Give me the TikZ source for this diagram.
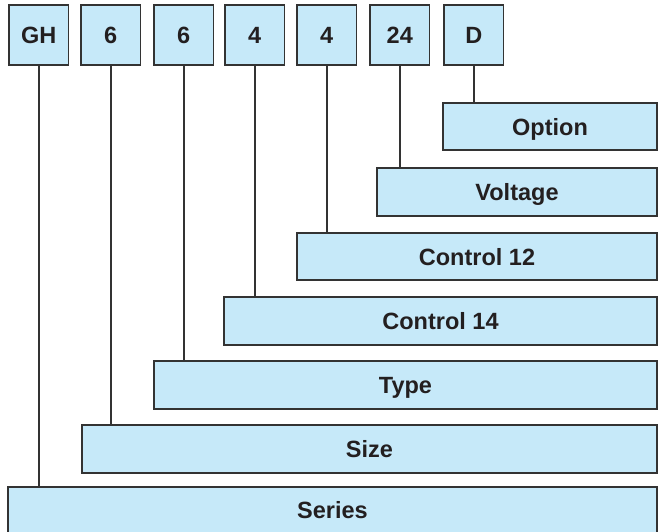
\documentclass[tikz,border=0pt]{standalone}
\usepackage{fontspec}
\setmainfont{Liberation Sans}
\definecolor{boxfill}{HTML}{C6E9F9}
\definecolor{boxline}{HTML}{333333}
\definecolor{ink}{HTML}{231F20}
\begin{document}
\begin{tikzpicture}[x=1pt,y=-1pt,
  box/.style={draw=boxline,fill=boxfill,line width=1.4pt,inner sep=0pt,outer sep=0pt,
    font=\fontsize{23.5}{25}\selectfont\bfseries,text=ink,anchor=north west,
    text height=16.8pt,text depth=0pt},
  codebox/.style={box,minimum width=59.5pt,minimum height=60pt},
  link/.style={draw=boxline,line width=1.5pt}]
\useasboundingbox (0,0) rectangle (658,532);
\clip (0,0) rectangle (658,532);
% code boxes
\node[codebox] (gh) at (9,5) {GH};
\node[codebox] (s1) at (81,5) {6};
\node[codebox] (s2) at (154,5) {6};
\node[codebox] (s3) at (225,5) {4};
\node[codebox] (s4) at (297,5) {4};
\node[codebox] (s5) at (370,5) {24};
\node[codebox] (s6) at (444,5) {D};
% description boxes
\node[box,minimum width=214pt,minimum height=47pt] (option) at (443,103) {\raisebox{-1pt}{Option}};
\node[box,minimum width=280pt,minimum height=48pt] (voltage) at (377,168) {Voltage};
\node[box,minimum width=360pt,minimum height=47pt] (c12) at (297,233) {\raisebox{-0.5pt}{Control 12}};
\node[box,minimum width=433pt,minimum height=48pt] (c14) at (224,297) {Control 14};
\node[box,minimum width=503pt,minimum height=48pt] (type) at (154,361) {Type};
\node[box,minimum width=575pt,minimum height=48pt] (size) at (82,425) {Size};
\node[box,minimum width=649pt,minimum height=52pt] (series) at (8,487) {\raisebox{2.5pt}{Series}};
% connectors
\draw[link] (gh.south) -- (gh.south |- series.north);
\draw[link] (s1.south) -- (s1.south |- size.north);
\draw[link] (s2.south) -- (s2.south |- type.north);
\draw[link] (s3.south) -- (s3.south |- c14.north);
\draw[link] (s4.south) -- (s4.south |- c12.north);
\draw[link] (s5.south) -- (s5.south |- voltage.north);
\draw[link] (s6.south) -- (s6.south |- option.north);
\end{tikzpicture}
\end{document}
